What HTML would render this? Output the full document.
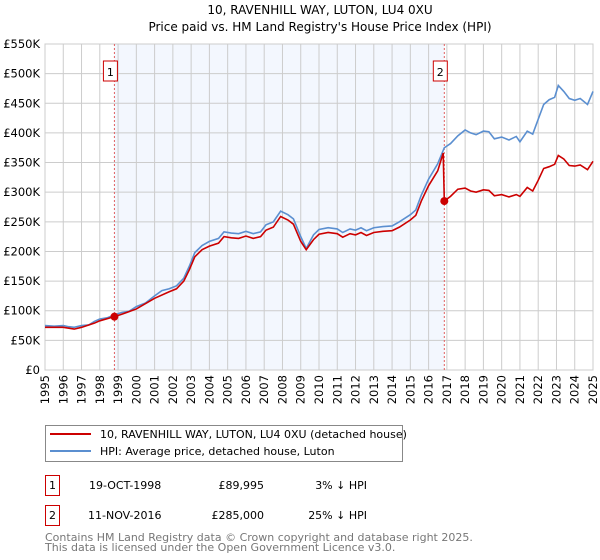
<!DOCTYPE html>
<html><head><meta charset="utf-8"><style>
body{margin:0;background:#fff;font-family:"DejaVu Sans","Liberation Sans",sans-serif;}
svg{display:block}
</style></head><body>
<svg width="600" height="560" xmlns="http://www.w3.org/2000/svg" font-family="DejaVu Sans, Liberation Sans, sans-serif">
<text x="320" y="14" text-anchor="middle" font-size="12">10, RAVENHILL WAY, LUTON, LU4 0XU</text>
<text x="320" y="31" text-anchor="middle" font-size="12">Price paid vs. HM Land Registry's House Price Index (HPI)</text>
<g id="plot"></g>
<g>
<rect x="45.5" y="425.5" width="357" height="36" fill="#fff" stroke="#888"/>
<line x1="50" y1="434" x2="91" y2="434" stroke="#cc0000" stroke-width="2"/>
<text x="100" y="438" font-size="11">10, RAVENHILL WAY, LUTON, LU4 0XU (detached house)</text>
<line x1="50" y1="451" x2="91" y2="451" stroke="#5b8fd0" stroke-width="2"/>
<text x="100" y="455" font-size="11">HPI: Average price, detached house, Luton</text>
</g>
<g font-size="11">
<rect x="45.5" y="475.5" width="14" height="20" fill="#fff" stroke="#cc0000"/>
<text x="52.5" y="489" text-anchor="middle">1</text>
<text x="89" y="489">19-OCT-1998</text>
<text x="264" y="489" text-anchor="end">£89,995</text>
<text x="367" y="489" text-anchor="end">3% ↓ HPI</text>
<rect x="45.5" y="505.5" width="14" height="20" fill="#fff" stroke="#cc0000"/>
<text x="52.5" y="519" text-anchor="middle">2</text>
<text x="88" y="519">11-NOV-2016</text>
<text x="264" y="519" text-anchor="end">£285,000</text>
<text x="367" y="519" text-anchor="end">25% ↓ HPI</text>
</g>
<text x="45" y="541" font-size="11" fill="#777">Contains HM Land Registry data © Crown copyright and database right 2025.</text>
<text x="45" y="551" font-size="11" fill="#777">This data is licensed under the Open Government Licence v3.0.</text>
</svg>
<script>
const hpiYears=[1995.0,1995.5,1996.0,1996.3,1996.6,1997.0,1997.4,1997.7,1998.0,1998.4,1998.8,1999.2,1999.6,2000.0,2000.5,2001.0,2001.4,2001.8,2002.2,2002.6,2002.9,2003.2,2003.6,2004.0,2004.5,2004.8,2005.2,2005.6,2006.0,2006.4,2006.8,2007.1,2007.5,2007.9,2008.3,2008.6,2009.0,2009.3,2009.7,2010.0,2010.5,2011.0,2011.3,2011.7,2012.0,2012.3,2012.6,2013.0,2013.5,2014.0,2014.4,2015.0,2015.3,2015.6,2016.0,2016.5,2016.86,2017.2,2017.6,2018.0,2018.3,2018.6,2019.0,2019.3,2019.6,2020.0,2020.4,2020.8,2021.0,2021.4,2021.7,2022.0,2022.3,2022.6,2022.9,2023.1,2023.4,2023.7,2024.0,2024.3,2024.7,2025.0];
const hpiValues=[75,74,75,73,72,75,76,82,86,88,93,97,99,107,113,125,134,137,142,155,175,198,210,217,222,233,231,230,234,230,233,245,250,268,262,255,225,205,228,237,240,238,232,238,236,240,235,240,242,243,250,262,270,295,322,348,375,382,395,405,400,397,403,402,390,393,388,394,385,403,398,423,448,456,460,480,470,458,455,458,448,470];
const priceYears=[1995.0,1996.0,1996.6,1997.0,1997.7,1998.0,1998.8,1999.2,2000.0,2001.0,2001.8,2002.2,2002.6,2002.9,2003.2,2003.6,2004.0,2004.5,2004.8,2005.2,2005.6,2006.0,2006.4,2006.8,2007.1,2007.5,2007.9,2008.3,2008.6,2009.0,2009.3,2009.7,2010.0,2010.5,2011.0,2011.3,2011.7,2012.0,2012.3,2012.6,2013.0,2013.5,2014.0,2014.4,2015.0,2015.3,2015.6,2016.0,2016.5,2016.8,2016.86,2017.2,2017.6,2018.0,2018.3,2018.6,2019.0,2019.3,2019.6,2020.0,2020.4,2020.8,2021.0,2021.4,2021.7,2022.0,2022.3,2022.6,2022.9,2023.1,2023.4,2023.7,2024.0,2024.3,2024.7,2025.0];
const priceValues=[72,72,69,72,79,83,90,94,103,121,132,137,150,169,191,203,209,214,225,223,222,226,222,225,236,241,259,253,246,217,203,220,229,232,230,224,230,228,232,227,232,234,235,241,253,261,285,311,336,366,285,293,305,307,302,300,304,303,294,296,292,296,293,308,302,320,340,343,347,362,356,345,344,346,338,352];
const saleYears=[1998.8,2016.86];
const saleValues=[90,285];
const saleLabels=["1","2"];
const yTicks=[0,50,100,150,200,250,300,350,400,450,500,550];
const yTickLabels=["£0","£50K","£100K","£150K","£200K","£250K","£300K","£350K","£400K","£450K","£500K","£550K"];
const xTicks=[1995,1996,1997,1998,1999,2000,2001,2002,2003,2004,2005,2006,2007,2008,2009,2010,2011,2012,2013,2014,2015,2016,2017,2018,2019,2020,2021,2022,2023,2024,2025];

const L=45,R=593,T=44,B=370;
const xs=y=>L+(y-1995)/30*(R-L);
const ys=v=>B-v/550*(B-T);
const NS="http://www.w3.org/2000/svg";
const g=document.getElementById('plot');
function mk(tag,attrs,parent){const e=document.createElementNS(NS,tag);for(const k in attrs)e.setAttribute(k,attrs[k]);(parent||g).appendChild(e);return e;}
let r=mk('rect',{x:xs(saleYears[0]),y:T,width:xs(saleYears[1])-xs(saleYears[0]),height:B-T,fill:'#eef3fd',opacity:0.7});


yTicks.forEach((v,i)=>{
 const l=mk('line',{x1:L,x2:R,y1:ys(v),y2:ys(v),stroke:'#ccc'});
 
 
 const t=mk('text',{x:L-5,y:ys(v)+4,'text-anchor':'end','font-size':'11.5'});
 t.textContent=yTickLabels[i];
 
 
});
xTicks.forEach(y=>{
 const l=mk('line',{x1:xs(y),x2:xs(y),y1:T,y2:B,stroke:'#ccc'});
 
 
 const t=mk('text',{x:0,y:0,'font-size':'11.5','text-anchor':'end',transform:`translate(${xs(y)+4},${B+5}) rotate(-90)`});
 t.textContent=y;
 
 
});
let fr=mk('rect',{x:L,y:T,width:R-L,height:B-T,fill:'none',stroke:'#ccc'});


saleYears.forEach((y,i)=>{
 const l=mk('line',{x1:xs(y),x2:xs(y),y1:T,y2:B,stroke:'#e06060','stroke-dasharray':'2,2'});
 
 
 const b=mk('rect',{x:xs(y)-11,y:T+17,width:14,height:20,fill:'#fff',stroke:'#cc0000'});
 
 
 const t=mk('text',{x:xs(y)-4,y:T+32,'text-anchor':'middle','font-size':'11'});
 t.textContent=saleLabels[i];
 
 
});
const hp=mk('polyline',{points:hpiYears.map((y,i)=>xs(y)+','+ys(hpiValues[i])).join(' '),fill:'none',stroke:'#5b8fd0','stroke-width':1.6});


const pp=mk('polyline',{points:priceYears.map((y,i)=>xs(y)+','+ys(priceValues[i])).join(' '),fill:'none',stroke:'#cc0000','stroke-width':1.6});


saleYears.forEach((y,i)=>{
 const c=mk('circle',{cx:xs(y),cy:ys(saleValues[i]),r:4,fill:'#cc0000'});
 
 
});
</script>
</body></html>
